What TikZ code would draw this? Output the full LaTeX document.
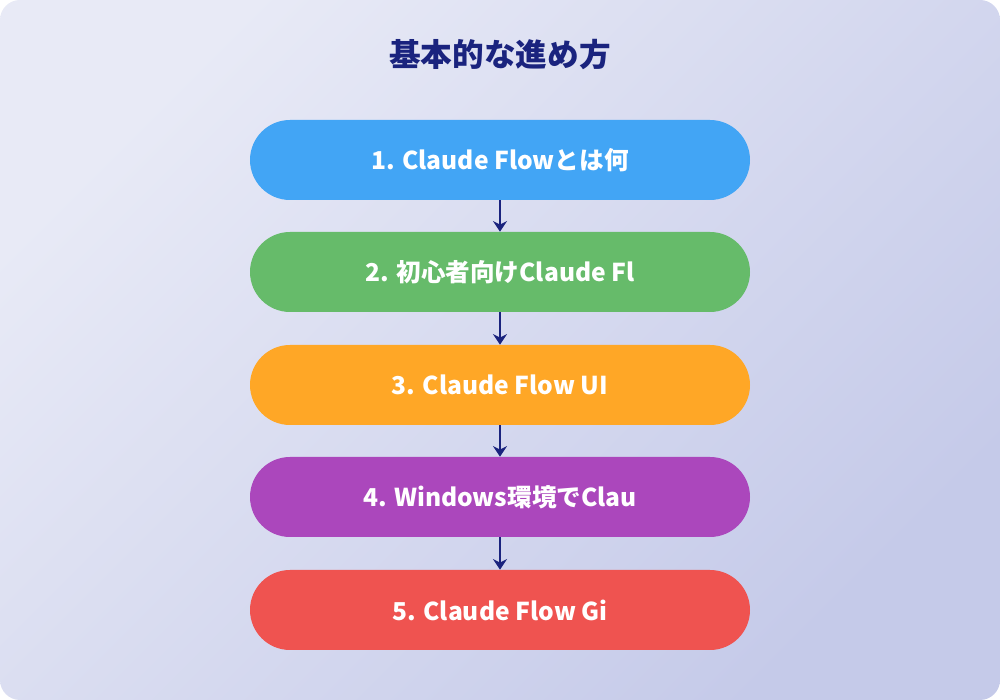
\documentclass[tikz,border=0pt]{standalone}
\usepackage{fontspec}
\setmainfont{Noto Sans CJK JP}
\usetikzlibrary{arrows.meta}
\definecolor{bgA}{HTML}{E8EAF6}
\definecolor{bgB}{HTML}{C5CAE9}
\definecolor{navy}{HTML}{1A237E}
\definecolor{stepA}{HTML}{42A5F5}
\definecolor{stepB}{HTML}{66BB6A}
\definecolor{stepC}{HTML}{FFA726}
\definecolor{stepD}{HTML}{AB47BC}
\definecolor{stepE}{HTML}{EF5350}
\tikzset{
	stage/.style={rounded corners=0.8cm, minimum width=10cm, minimum height=1.6cm, text=white, font=\fontsize{14}{16}\selectfont\bfseries},
	link/.style={draw=navy, line width=1.6pt, -{Stealth[length=6pt, width=8pt]}}
}
\begin{document}
\begin{tikzpicture}
	% Background and title:
	\useasboundingbox (0, 0) rectangle (20, 14);
	\shade[left color=bgA, right color=bgB, rounded corners=0.4cm, shading angle=45] (0, 0) rectangle (20, 14);
	\node[text=navy, font=\fontsize{18}{21}\selectfont\bfseries](title) at (10, 12.9){基本的な進め方};
	% Stages:
	\node[stage, fill=stepA](s1) at (10, 10.8){1. Claude Flowとは何};
	\node[stage, fill=stepB](s2) at (10, 8.56){2. 初心者向けClaude Fl};
	\node[stage, fill=stepC](s3) at (10, 6.3){3. Claude Flow UI};
	\node[stage, fill=stepD](s4) at (10, 4.06){4. Windows環境でClau};
	\node[stage, fill=stepE](s5) at (10, 1.8){5. Claude Flow Gi};
	% Arrows:
	\draw[link] (s1) -- (s2);
	\draw[link] (s2) -- (s3);
	\draw[link] (s3) -- (s4);
	\draw[link] (s4) -- (s5);
\end{tikzpicture}
\end{document}
